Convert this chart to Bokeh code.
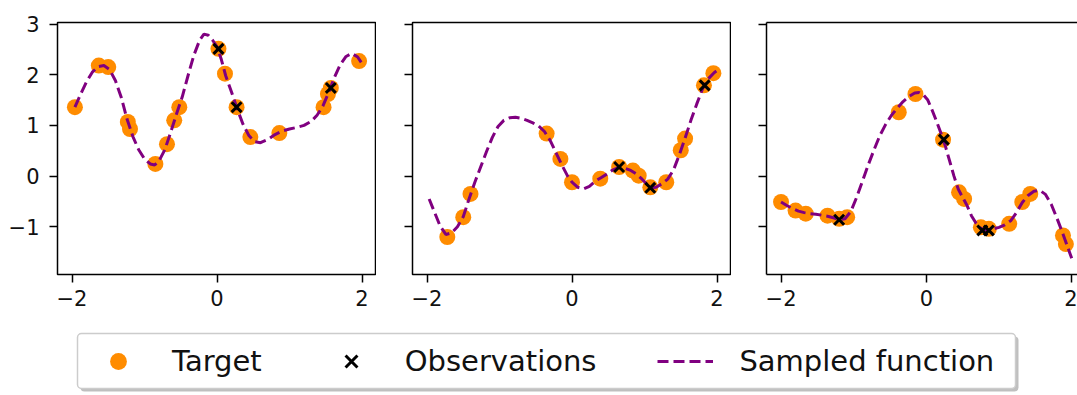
from bokeh.plotting import figure
from bokeh.models import (Range1d, FixedTicker, Legend, LegendItem, BoxAnnotation,
                          CustomJSTickFormatter, LinearAxis)
from bokeh.layouts import row, column
from bokeh.embed import file_html
from bokeh.resources import INLINE

# ---------------- data ----------------
x_ticks = [-2, 0, 2]
x_tick_labels = ["\u22122", "0", "2"]
y_ticks = [-1, 0, 1, 2, 3]
y_tick_labels = ["\u22121", "0", "1", "2", "3"]

# panel 1
p1_target_x = [-1.96, -1.63, -1.50, -1.23, -1.20, -0.85, -0.69, -0.59, -0.52, 0.02, 0.11, 0.27, 0.46, 0.86, 1.47, 1.53, 1.57, 1.96]
p1_target_y = [1.36, 2.18, 2.15, 1.07, 0.93, 0.24, 0.63, 1.10, 1.36, 2.51, 2.02, 1.36, 0.77, 0.85, 1.36, 1.62, 1.74, 2.27]
p1_obs_x = [0.02, 0.27, 1.57]
p1_obs_y = [2.51, 1.36, 1.74]
p1_func_x = [-1.96, -1.88, -1.80, -1.72, -1.64, -1.56, -1.48, -1.40, -1.32, -1.24, -1.16, -1.08, -1.00, -0.92, -0.86,
             -0.80, -0.72, -0.64, -0.56, -0.48, -0.40, -0.32, -0.24, -0.18, -0.12, -0.06, 0.00, 0.06, 0.12, 0.20,
             0.28, 0.36, 0.44, 0.52, 0.60, 0.70, 0.80, 0.90, 1.00, 1.10, 1.20, 1.30, 1.38, 1.46, 1.54, 1.62, 1.70,
             1.78, 1.86, 1.94, 2.00]
p1_func_y = [1.36, 1.62, 1.86, 2.05, 2.16, 2.18, 2.10, 1.88, 1.55, 1.12, 0.78, 0.52, 0.34, 0.24, 0.22,
             0.30, 0.52, 0.86, 1.22, 1.56, 1.98, 2.38, 2.68, 2.80, 2.78, 2.68, 2.55, 2.30, 1.98, 1.66,
             1.32, 1.02, 0.80, 0.68, 0.66, 0.72, 0.82, 0.89, 0.93, 0.96, 1.00, 1.08, 1.20, 1.38, 1.65, 1.95, 2.20,
             2.36, 2.42, 2.35, 2.22]

# panel 2
p2_target_x = [-1.72, -1.50, -1.40, -0.35, -0.16, 0.00, 0.39, 0.65, 0.84, 0.92, 1.08, 1.30, 1.50, 1.56, 1.82, 1.95]
p2_target_y = [-1.20, -0.81, -0.35, 0.84, 0.34, -0.12, -0.05, 0.18, 0.11, 0.01, -0.22, -0.12, 0.51, 0.74, 1.79, 2.03]
p2_obs_x = [0.65, 1.08, 1.83]
p2_obs_y = [0.18, -0.23, 1.79]
p2_func_x = [-1.97, -1.90, -1.82, -1.74, -1.66, -1.58, -1.50, -1.42, -1.34, -1.26, -1.18, -1.10, -1.02, -0.94, -0.86,
             -0.78, -0.70, -0.62, -0.54, -0.46, -0.38, -0.30, -0.22, -0.14, -0.06, 0.00, 0.08, 0.16, 0.24, 0.32,
             0.40, 0.48, 0.56, 0.64, 0.72, 0.80, 0.88, 0.96, 1.04, 1.10, 1.16, 1.24, 1.32, 1.40, 1.48, 1.56, 1.64,
             1.72, 1.80, 1.88, 1.96, 2.00]
p2_func_y = [-0.45, -0.70, -0.98, -1.15, -1.12, -1.00, -0.80, -0.45, -0.12, 0.18, 0.48, 0.76, 0.98, 1.10, 1.15,
             1.16, 1.14, 1.10, 1.05, 0.99, 0.88, 0.70, 0.46, 0.22, 0.00, -0.12, -0.22, -0.25, -0.20, -0.10,
             -0.03, 0.04, 0.12, 0.17, 0.16, 0.12, 0.05, -0.05, -0.17, -0.23, -0.22, -0.15, -0.06, 0.12, 0.42, 0.75, 1.10,
             1.42, 1.72, 1.92, 2.04, 2.08]

# panel 3
p3_target_x = [-2.00, -1.80, -1.66, -1.36, -1.20, -1.09, -0.38, -0.15, 0.23, 0.45, 0.52, 0.75, 0.86, 1.14, 1.32, 1.43, 1.88, 1.92]
p3_target_y = [-0.51, -0.68, -0.74, -0.78, -0.84, -0.81, 1.26, 1.62, 0.72, -0.32, -0.45, -1.01, -1.04, -0.94, -0.51, -0.35, -1.17, -1.34]
p3_obs_x = [-1.20, 0.24, 0.77, 0.86]
p3_obs_y = [-0.86, 0.72, -1.07, -1.07]
p3_func_x = [-2.00, -1.92, -1.84, -1.76, -1.68, -1.60, -1.52, -1.44, -1.36, -1.28, -1.20, -1.12, -1.04, -0.96, -0.88,
             -0.80, -0.72, -0.64, -0.56, -0.48, -0.40, -0.32, -0.24, -0.16, -0.10, -0.04, 0.02, 0.08, 0.14, 0.20,
             0.26, 0.32, 0.38, 0.44, 0.50, 0.56, 0.62, 0.68, 0.74, 0.80, 0.86, 0.92, 1.00, 1.08, 1.16, 1.24, 1.32,
             1.40, 1.48, 1.56, 1.64, 1.72, 1.80, 1.88, 1.96, 2.00]
p3_func_y = [-0.51, -0.58, -0.64, -0.69, -0.72, -0.74, -0.75, -0.77, -0.79, -0.82, -0.86, -0.84, -0.70, -0.42, -0.10,
             0.22, 0.52, 0.80, 1.02, 1.20, 1.34, 1.47, 1.57, 1.64, 1.65, 1.60, 1.50, 1.30, 1.08, 0.85,
             0.60, 0.30, 0.00, -0.26, -0.42, -0.58, -0.78, -0.92, -1.02, -1.06, -1.06, -1.04, -1.01, -0.96, -0.88, -0.72, -0.52,
             -0.38, -0.30, -0.28, -0.36, -0.56, -0.84, -1.14, -1.46, -1.62]

labels = ["Target", "Observations", "Sampled function"]

# ---------------- styles ----------------
TARGET_COLOR = "#ff8c00"
LINE_COLOR = "#800080"
FONT = "DejaVu Sans"

y_range = Range1d(-1.94, 3.03)


def style_axis(ax):
    ax.major_tick_out = 8
    ax.major_tick_in = 0
    ax.minor_tick_line_color = None
    ax.major_tick_line_width = 1.5
    ax.major_tick_line_color = "black"
    ax.major_label_text_font = FONT
    ax.major_label_text_font_size = "21px"
    ax.major_label_text_color = "#111111"


def make_panel(xr, left_border, frame_w, show_ylabels, open_right, tx, ty, ox, oy, fx, fy):
    p = figure(x_range=xr, y_range=y_range, frame_width=frame_w, frame_height=252,
               min_border_left=left_border, min_border_right=0, min_border_top=22,
               min_border_bottom=38, output_backend="svg", toolbar_location=None)
    p.grid.visible = False
    p.background_fill_color = "white"
    p.border_fill_color = "white"

    xb = p.below[0]
    yl = p.left[0]

    for ax in (xb, yl):
        style_axis(ax)
        if open_right:
            ax.axis_line_color = "black"
            ax.axis_line_width = 1.5
        else:
            ax.axis_line_color = None

    xb.ticker = FixedTicker(ticks=x_ticks)
    xb.major_label_overrides = dict(zip(x_ticks, x_tick_labels))
    xb.major_label_standoff = 7
    yl.ticker = FixedTicker(ticks=y_ticks)
    if show_ylabels:
        yl.major_label_overrides = dict(zip(y_ticks, y_tick_labels))
        yl.major_label_standoff = 10
    else:
        yl.formatter = CustomJSTickFormatter(code="return ''")

    if open_right:
        p.outline_line_color = None
        top = LinearAxis(ticker=FixedTicker(ticks=[]), axis_line_color="black", axis_line_width=1.5,
                         major_tick_line_color=None, minor_tick_line_color=None,
                         major_label_text_font_size="0px",
                         formatter=CustomJSTickFormatter(code="return ''"))
        p.add_layout(top, "above")
    else:
        p.outline_line_color = "black"
        p.outline_line_width = 1.5
        p.outline_line_alpha = 1.0

    p.scatter(tx, ty, size=16, fill_color=TARGET_COLOR, line_color=None)
    p.line(fx, fy, line_color=LINE_COLOR, line_width=3, line_dash="11 5")
    p.scatter(ox, oy, marker="x", size=14, line_color="black", line_width=3)
    return p


p1 = make_panel(Range1d(-2.2, 2.2), 57, 319, True, False,
                p1_target_x, p1_target_y, p1_obs_x, p1_obs_y, p1_func_x, p1_func_y)
p2 = make_panel(Range1d(-2.2, 2.2), 36, 319, False, False,
                p2_target_x, p2_target_y, p2_obs_x, p2_obs_y, p2_func_x, p2_func_y)
p3 = make_panel(Range1d(-2.2, 2.08), 35, 311, False, True,
                p3_target_x, p3_target_y, p3_obs_x, p3_obs_y, p3_func_x, p3_func_y)

# ---------------- legend strip ----------------
lp = figure(x_range=Range1d(0, 1077), y_range=Range1d(395, 312), width=1077, height=83,
            min_border=0, x_axis_type=None, y_axis_type=None,
            output_backend="svg", toolbar_location=None)
lp.grid.visible = False
lp.outline_line_color = None
lp.background_fill_color = "white"
lp.border_fill_color = "white"

lp.add_layout(BoxAnnotation(left=80, right=1018, top=336, bottom=391,
                            fill_color="gray", fill_alpha=0.5, line_color=None,
                            border_radius=4))
lp.add_layout(BoxAnnotation(left=77, right=1015, top=333, bottom=388,
                            fill_color="white", fill_alpha=1.0, line_color="#cccccc",
                            line_width=1.5, line_alpha=1.0, border_radius=4))

# legend-only renderers (placed outside the visible range)
r_t = lp.scatter(x=[-500], y=[-500], size=17, fill_color=TARGET_COLOR, line_color=None)
r_o = lp.scatter(x=[-500], y=[-500], marker="x", size=14, line_color="black", line_width=3)
r_f = lp.line(x=[-500, -499], y=[-500, -500], line_color=LINE_COLOR, line_width=3, line_dash="11 5")

legend = Legend(items=[LegendItem(label=labels[0], renderers=[r_t]),
                       LegendItem(label=labels[1], renderers=[r_o]),
                       LegendItem(label=labels[2], renderers=[r_f])],
                orientation="horizontal", location=(90, 13), padding=0, margin=0,
                spacing=61, glyph_width=56, glyph_height=42, label_standoff=26,
                label_text_font=FONT, label_text_font_size="29px",
                label_text_color="#111111",
                border_line_alpha=0, background_fill_alpha=0)
lp.add_layout(legend, "center")

layout = column(row(p1, p2, p3), lp)

open("out.html", "w").write(file_html(layout, INLINE))
